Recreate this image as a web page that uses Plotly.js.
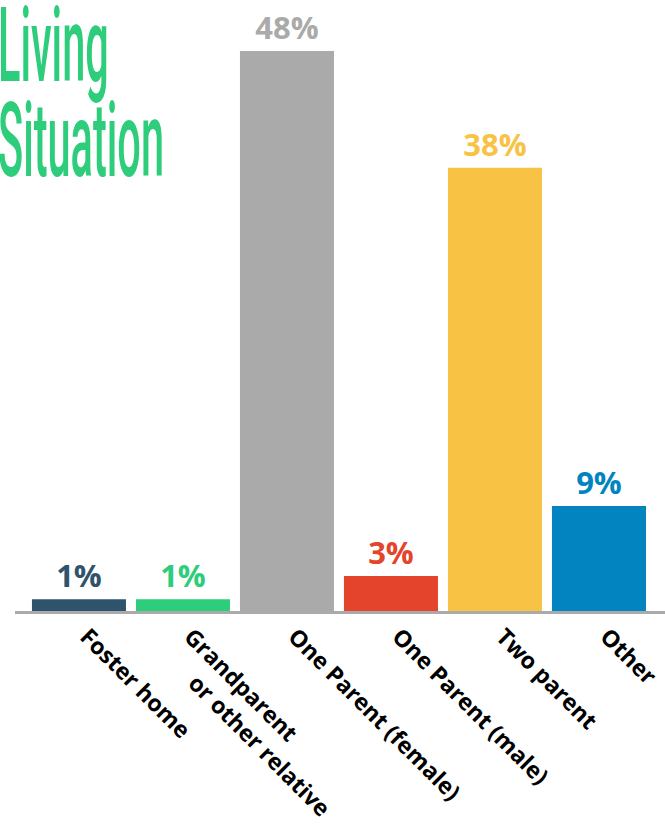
<!DOCTYPE html>
<html>
<head>
<meta charset="utf-8">
<script src="https://cdn.plot.ly/plotly-3.0.1.min.js"></script>
<style>html,body{margin:0;padding:0;background:#fff;}</style>
</head>
<body>
<div id="chart" style="width:665px;height:824px;"></div>
<script>
const categories = ['Foster home', 'Grandparent<br>\u00a0\u00a0\u00a0\u00a0\u00a0\u00a0or other relative', 'One Parent (female)', 'One Parent (male)', 'Two parent', 'Other'];
const values = [1, 1, 48, 3, 38, 9];
const valueLabels = values.map(v => v + '%');
const barColors = ['#2f536c', '#2ecd7b', '#a9aaa9', '#e3442b', '#f8c244', '#0284c0'];
const titleLines = ['Living', 'Situation'];

const trace = {
  type: 'bar',
  x: categories,
  y: values,
  text: valueLabels,
  textposition: 'outside',
  cliponaxis: false,
  textfont: {family: 'Open Sans', size: 31, weight: 700, color: barColors},
  marker: {color: barColors, line: {width: 0}},
  hoverinfo: 'none'
};

const layout = {
  width: 665,
  height: 824,
  margin: {l: 15, r: 0, t: 0, b: 213},
  paper_bgcolor: '#ffffff',
  plot_bgcolor: '#ffffff',
  showlegend: false,
  bargap: 0.096,
  xaxis: {
    type: 'category',
    range: [-0.615, 5.635],
    tickangle: 45,
    ticklabelshift: 8,
    showline: true,
    linecolor: '#aaaaaa',
    linewidth: 3,
    ticks: '',
    showgrid: false,
    zeroline: false,
    tickfont: {family: 'Open Sans', size: 23, weight: 700, color: '#000000'}
  },
  yaxis: {
    range: [0, 52.37],
    visible: false,
    showgrid: false,
    zeroline: false
  },
  annotations: [
    {text: titleLines[0], xref: 'paper', yref: 'paper', x: -0.03, y: 1.028, xanchor: 'left', yanchor: 'top', showarrow: false,
     font: {family: 'Roboto', size: 104, weight: 500, color: '#2ecd7b'}},
    {text: titleLines[1], xref: 'paper', yref: 'paper', x: -0.03, y: 0.872, xanchor: 'left', yanchor: 'top', showarrow: false,
     font: {family: 'Roboto', size: 104, weight: 500, color: '#2ecd7b'}}
  ]
};

Plotly.newPlot('chart', [trace], layout, {displayModeBar: false, staticPlot: true}).then(gd => {
  const texts = gd.querySelectorAll('.annotation-text');
  let scale = null;
  texts.forEach((t, i) => {
    const bb = t.getBBox();
    if (i === 1) scale = 166 / bb.width;
  });
  if (!scale) scale = 0.45;
  texts.forEach(t => {
    const bb = t.getBBox();
    const x0 = bb.x;
    t.setAttribute('transform', 'translate(' + x0 + ',0) scale(' + scale + ',1) translate(' + (-x0) + ',0)');
  });
});
</script>
</body>
</html>
